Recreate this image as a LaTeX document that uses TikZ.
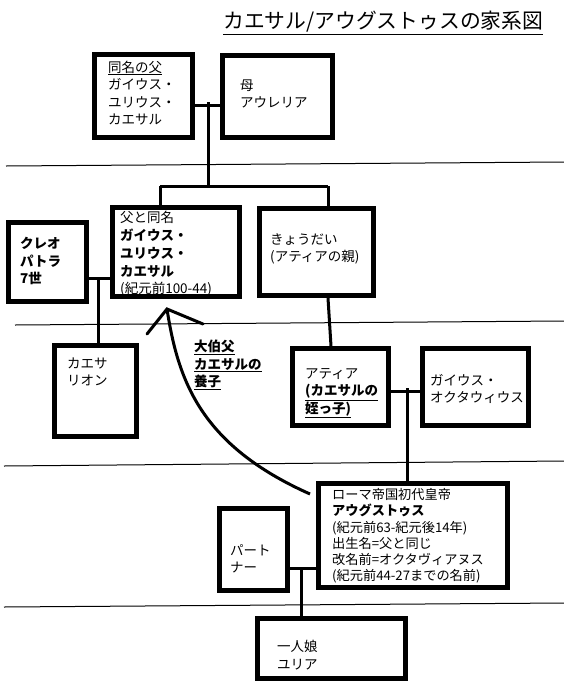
\documentclass[tikz,border=0pt]{standalone}
\usepackage{fontspec}
\setmainfont{Noto Sans CJK JP}
\begin{document}
\begin{tikzpicture}[x=1pt,y=-1pt,
  box/.style={draw,line width=5pt,fill=white,inner sep=0pt},
  conn/.style={line width=3pt},
  sepline/.style={line width=1pt},
  txt/.style={anchor=west,align=left,inner sep=0pt,font=\fontsize{13.5}{17.5}\selectfont},
  txtb/.style={txt,font=\fontsize{13.5}{17.5}\selectfont\bfseries}]
\useasboundingbox[fill=white] (0,0) rectangle (564,689);

% separator lines
\draw[sepline] (6,166) -- (564,162);
\draw[sepline] (15,325) -- (564,321);
\draw[sepline] (4,466) -- (564,461);
\draw[sepline] (4,607) -- (564,603);

% title
\node[inner sep=0pt,anchor=west,font=\fontsize{20.8}{24}\selectfont] (title) at (223,23) {\underline{カエサル/アウグストゥスの家系図}};

% boxes
\node[box,minimum width=98pt,minimum height=83pt] (father) at (143.5,96) {};
\node[box,minimum width=110pt,minimum height=82pt] (mother) at (277.5,96.5) {};
\node[box,minimum width=127pt,minimum height=89pt] (caesar) at (176,252) {};
\node[box,minimum width=78pt,minimum height=79pt] (cleo) at (47.5,262) {};
\node[box,minimum width=114pt,minimum height=87pt] (sib) at (316.5,252) {};
\node[box,minimum width=82pt,minimum height=91pt] (caesarion) at (95.5,391) {};
\node[box,minimum width=96pt,minimum height=77pt] (atia) at (340.5,387) {};
\node[box,minimum width=106pt,minimum height=77pt] (octavius) at (475.5,387) {};
\node[box,minimum width=189pt,minimum height=104pt] (aug) at (413,535.5) {};
\node[box,minimum width=68pt,minimum height=82pt] (partner) at (253.5,549.5) {};
\node[box,minimum width=148pt,minimum height=60pt] (julia) at (331.5,648.5) {};

% texts
\node[txt] (tfather) at (108,93) {\underline{同名の父}\\ガイウス・\\ユリウス・\\カエサル};
\node[txt] (tmother) at (240,94) {母\\アウレリア};
\node[txt,font=\fontsize{13.5}{17.8}\selectfont] (tcaesar) at (120,254) {父と同名\\\textbf{ガイウス・}\\\textbf{ユリウス・}\\\textbf{カエサル}\\(紀元前100-44)};
\node[txtb] (tcleo) at (20,261) {クレオ\\パトラ\\7世};
\node[txt] (tsib) at (270,249) {きょうだい\\(アティアの親)};
\node[txt] (tcaesarion) at (67,372) {カエサ\\リオン};
\node[txtb] (tlabel) at (194,365) {\underline{大伯父}\\\underline{カエサルの}\\\underline{養子}};
\node[txt] (tatia) at (305,393) {アティア\\\textbf{\underline{(カエサルの}}\\\textbf{\underline{姪っ子)}}};
\node[txt] (toct) at (430,389) {ガイウス・\\オクタウィウス};
\node[txt,font=\fontsize{13.2}{16.2}\selectfont] (taug) at (332,536) {ローマ帝国初代皇帝\\\textbf{アウグストゥス}\\(紀元前63-紀元後14年)\\出生名=父と同じ\\改名前=オクタヴィアヌス\\(紀元前44-27までの名前)};
\node[txt] (tpartner) at (230,559) {パート\\ナー};
\node[txt] (tjulia) at (277,655) {一人娘\\ユリア};

% connectors
\coordinate (m1) at (208,105);
\coordinate (bar1) at (208,186);
\draw[conn] (father.east |- m1) -- (mother.west |- m1);
\draw[conn] (208,102) -- (bar1);
\draw[conn] (160,186) -- (328,186);
\draw[conn] (160,186) -- (caesar.north -| 160,0);
\draw[conn] (328,186) -- (sib.north -| 328,0);

\coordinate (m2) at (98,278);
\draw[conn] (cleo.east |- m2) -- (caesar.west |- m2);
\draw[conn] (m2) -- (caesarion.north -| m2);

\draw[conn] (sib.south -| 328,0) -- (atia.north -| 331,0);

\coordinate (m3) at (407,391);
\draw[conn] (atia.east |- m3) -- (octavius.west |- m3);
\draw[conn] (407,388) -- (aug.north -| m3);

\coordinate (m4) at (301,568);
\draw[conn] (partner.east |- m4) -- (aug.west |- m4);
\draw[conn] (m4) -- (julia.north -| m4);

% adoption arrow
\coordinate (tip) at (167,309);
\coordinate (astart) at (310,494);
\draw[conn] (astart) .. controls (200,445) and (178,380) .. (tip);
\draw[conn,line cap=round] (147,334) -- (tip) -- (203,324);
\end{tikzpicture}
\end{document}
